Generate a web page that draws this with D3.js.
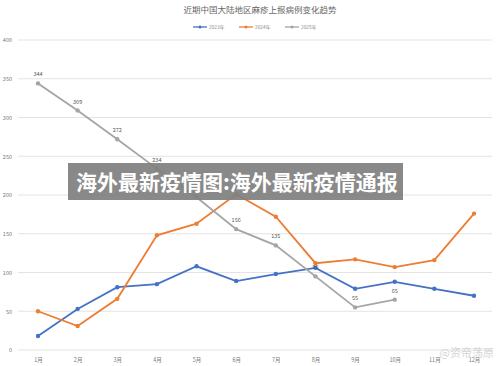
<!DOCTYPE html>
<html>
<head>
<meta charset="utf-8">
<script src="https://cdn.jsdelivr.net/npm/d3@7"></script>
<style>
  body { margin: 0; background: #fff; }
  text { font-family: "Noto Sans CJK SC", "Noto Sans", sans-serif; }
</style>
</head>
<body>
<div id="chart"></div>
<script>
// Months along the x axis.
var months = ["1月", "2月", "3月", "4月", "5月", "6月", "7月", "8月", "9月", "10月", "11月", "12月"];

// Reported cases per month.
var cases2023 = [18, 53, 81, 85, 108, 89, 98, 106, 79, 88, 79, 70];
var cases2024 = [50, 31, 66, 148, 163, 201, 172, 112, 117, 107, 116, 176];
var cases2025 = [344, 309, 272, 234, 197, 156, 135, 95, 55, 65];

// Which 2025 points carry a value label.
var labels2025 = [true, true, true, true, false, true, true, true, true, true];

var yTicks = [0, 50, 100, 150, 200, 250, 300, 350, 400];

var seriesNames = ["2023年", "2024年", "2025年"];
var seriesColors = ["#4472c4", "#ed7d31", "#a5a5a5"];

var width = 500, height = 366;
var margin = {left: 18, right: 8, top: 40, bottom: 16};

var svg = d3.select("#chart")
    .append("svg")
        .attr("width", width)
        .attr("height", height);

// Scales: category points for months, linear for cases.
var x = d3.scalePoint()
    .domain(months)
    .range([38, 474]);

var y = d3.scaleLinear()
    .domain([0, 400])
    .range([350, 40]);

// Horizontal gridlines.
svg.append("g")
    .selectAll("line")
    .data(yTicks)
    .enter()
    .append("line")
        .attr("x1", margin.left)
        .attr("x2", width - margin.right)
        .attr("y1", function(d){ return y(d); })
        .attr("y2", function(d){ return y(d); })
        .attr("stroke", "#e3e3e3")
        .attr("stroke-width", 1);

// Y axis tick labels (no domain line).
var yAxis = d3.axisLeft(y)
    .tickValues(yTicks)
    .tickSize(0)
    .tickPadding(4);

svg.append("g")
    .attr("transform", "translate(" + 16 + ", 0)")
    .call(yAxis)
    .call(function(g){ g.select(".domain").remove(); })
    .selectAll("text")
        .attr("font-size", "5.5px")
        .attr("fill", "#777");

// X axis month labels.
var xAxis = d3.axisBottom(x).tickSize(0).tickPadding(4);

svg.append("g")
    .attr("transform", "translate(0, " + 354 + ")")
    .call(xAxis)
    .call(function(g){ g.select(".domain").remove(); })
    .selectAll("text")
        .attr("font-size", "5.5px")
        .attr("fill", "#777");

// Title.
svg.append("text")
    .attr("x", 260)
    .attr("y", 13)
    .attr("text-anchor", "middle")
    .attr("font-size", "8.5px")
    .attr("fill", "#666")
    .text("近期中国大陆地区麻疹上报病例变化趋势");

// Legend.
var legend = svg.append("g")
    .attr("transform", "translate(193, 27)");

seriesNames.forEach(function(name, i){
    var row = legend.append("g")
        .attr("transform", "translate(" + (i * 46) + ", 0)");

    row.append("line")
        .attr("x1", 0)
        .attr("x2", 14)
        .attr("stroke", seriesColors[i])
        .attr("stroke-width", 1.3);

    row.append("circle")
        .attr("cx", 7)
        .attr("r", 1.5)
        .attr("fill", seriesColors[i]);

    row.append("text")
        .attr("x", 16)
        .attr("y", 1.8)
        .attr("font-size", "4.8px")
        .attr("fill", "#888")
        .text(name);
});

// Lines for each year.
var allSeries = [cases2023, cases2024, cases2025];

var line = d3.line()
    .x(function(d, i){ return x(months[i]); })
    .y(function(d){ return y(d); });

allSeries.forEach(function(values, s){
    svg.append("path")
        .datum(values)
        .attr("fill", "none")
        .attr("stroke", seriesColors[s])
        .attr("stroke-width", 1.8)
        .attr("d", line);

    svg.append("g")
        .selectAll("circle")
        .data(values)
        .enter()
        .append("circle")
            .attr("cx", function(d, i){ return x(months[i]); })
            .attr("cy", function(d){ return y(d); })
            .attr("r", 2.2)
            .attr("fill", seriesColors[s]);
});

// Value labels on the 2025 line.
svg.append("g")
    .selectAll("text")
    .data(cases2025)
    .enter()
    .filter(function(d, i){ return labels2025[i]; })
    .append("text")
        .attr("x", function(d){ return x(months[cases2025.indexOf(d)]); })
        .attr("y", function(d){ return y(d) - 7; })
        .attr("text-anchor", "middle")
        .attr("font-size", "5.5px")
        .attr("fill", "#555")
        .text(function(d){ return d; });

// Banner overlaid across the chart.
svg.append("rect")
    .attr("x", 68)
    .attr("y", 163)
    .attr("width", 335)
    .attr("height", 37)
    .attr("fill", "#7f7f7f")
    .attr("opacity", 0.92);

svg.append("text")
    .attr("x", 76)
    .attr("y", 190)
    .attr("font-size", "21px")
    .attr("font-weight", "bold")
    .attr("fill", "#fff")
    .text("海外最新疫情图:海外最新疫情通报");

// Faint watermark at bottom right.
svg.append("text")
    .attr("x", 494)
    .attr("y", 357)
    .attr("text-anchor", "end")
    .attr("font-size", "11px")
    .attr("fill", "#ccc")
    .attr("opacity", 0.8)
    .text("@资帝荡原");
</script>
</body>
</html>
